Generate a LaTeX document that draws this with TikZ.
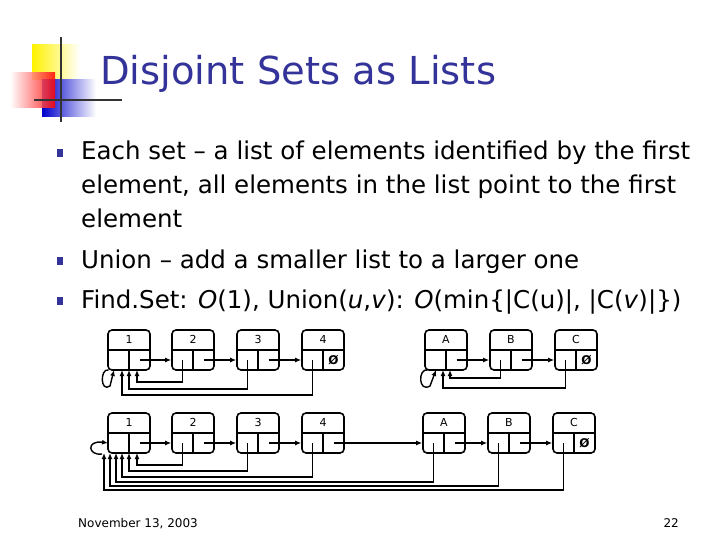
\documentclass[tikz,border=0pt]{standalone}
\usepackage{fontspec}
\setmainfont{DejaVu Sans}
\usetikzlibrary{calc,arrows.meta}
\definecolor{titleblue}{RGB}{51,51,153}
\tikzset{
  cell/.style={draw, line width=1.6pt, rounded corners=4pt, minimum width=42pt, minimum height=40pt, inner sep=0pt},
  ptr/.style={line width=1.4pt, -{Latex[length=6pt,width=5pt]}},
  wire/.style={line width=1.4pt},
  bul/.style={fill=titleblue, minimum width=6pt, minimum height=8pt, inner sep=0pt}
}
% one list element: name, x, y (top left), label
\newcommand{\listelem}[4]{%
  \node[cell] (#1) at (#2+21,#3+20) {};
  \draw[wire] (#1.west) -- (#1.east) (#1.center) -- (#1.south);
  \node[font=\fontsize{11}{11}\selectfont] (#1lab) at ($(#1.north)+(0,10)$) {#4};
  \coordinate (#1l) at ($(#1.center)+(-10.5,10)$);
  \coordinate (#1r) at ($(#1.center)+(10.5,10)$);
}
\newcommand{\nullptr}[1]{\node[font=\bfseries\fontsize{12}{12}\selectfont] (#1nil) at (#1r) {Ø};}
\begin{document}
\begin{tikzpicture}[x=1pt,y=-1pt]
\useasboundingbox (0,0) rectangle (720,540);

% logo
\shade[left color=yellow!90!orange, right color=white] (32,45) rectangle (80,80);
\shade[left color=blue!80!black, right color=white] (42,80) rectangle (96,117);
\shade[left color=white, right color=red, opacity=0.85] (10,73) rectangle (55,108);
\draw[line width=2.2pt, black!80] (61,37) -- (61,122);
\draw[line width=2.2pt, black!80] (34,100) -- (122,100);

\node[anchor=base west, text=titleblue, font=\fontsize{38.5}{38.5}\selectfont, inner sep=0pt] (title) at (100,85) {Disjoint Sets as Lists};

% bullets
\foreach \y in {151,259,299} \node[bul] at (60,\y+2) {};
\begin{scope}[every node/.style={anchor=base west, inner sep=0pt, font=\fontsize{24.5}{24.5}\selectfont}]
\node (l1) at (81,160) {Each set -- a list of elements identified by the first};
\node (l2) at (81,194) {element, all elements in the list point to the first};
\node (l3) at (81,228) {element};
\node (l4) at (81,268) {Union -- add a smaller list to a larger one};
\node (l5) at (81,308) {Find.Set: \textit{O}(1), Union(\textit{u},\textit{v}): \textit{O}(min\{|C(u)|, |C(\textit{v})|\})};
\end{scope}

% top row
\listelem{a1}{108}{330}{1}
\listelem{a2}{172}{330}{2}
\listelem{a3}{237}{330}{3}
\listelem{a4}{302}{330}{4}
\listelem{aA}{425}{330}{A}
\listelem{aB}{490}{330}{B}
\listelem{aC}{555}{330}{C}
\nullptr{a4}
\nullptr{aC}
\draw[ptr] (a1r) -- (a1r -| a2.west);
\draw[ptr] (a2r) -- (a2r -| a3.west);
\draw[ptr] (a3r) -- (a3r -| a4.west);
\draw[ptr] (aAr) -- (aAr -| aB.west);
\draw[ptr] (aBr) -- (aBr -| aC.west);
\draw[ptr] (a2l) |- (137,382) -- (137,370);
\draw[ptr] (a3l) |- (129,389) -- (129,370);
\draw[ptr] (a4l) |- (122,395) -- (122,370);
\draw[ptr] (a1l) ++(-10,10) .. controls (100,368) and (100,393) .. (110,386) -- (114,370);
\draw[ptr] (aBl) |- (450,378) -- (450,370);
\draw[ptr] (aCl) |- (443,388) -- (443,370);
\draw[ptr] (aAl) ++(-8,10) .. controls (418,368) and (418,393) .. (430,386) -- (436,370);

% bottom row
\listelem{b1}{108}{413}{1}
\listelem{b2}{172}{413}{2}
\listelem{b3}{237}{413}{3}
\listelem{b4}{302}{413}{4}
\listelem{bA}{423}{413}{A}
\listelem{bB}{488}{413}{B}
\listelem{bC}{553}{413}{C}
\nullptr{bC}
\draw[ptr] (b1r) -- (b1r -| b2.west);
\draw[ptr] (b2r) -- (b2r -| b3.west);
\draw[ptr] (b3r) -- (b3r -| b4.west);
\draw[ptr] (b4r) -- (b4r -| bA.west);
\draw[ptr] (bAr) -- (bAr -| bB.west);
\draw[ptr] (bBr) -- (bBr -| bC.west);
\draw[ptr] (b2l) |- (137,465) -- (137,453);
\draw[ptr] (b3l) |- (129,471) -- (129,453);
\draw[ptr] (b4l) |- (122,477) -- (122,453);
\draw[ptr] (bAl) |- (116,482) -- (116,453);
\draw[ptr] (bBl) |- (110,486) -- (110,453);
\draw[ptr] (bCl) |- (104,490) -- (104,453);
\draw[ptr] (102,454) .. controls (88,456) and (86,440) .. (108,443);

% footer
\node[anchor=base west, font=\fontsize{12}{12}\selectfont, inner sep=0pt] (date) at (78,527) {November 13, 2003};
\node[anchor=base east, font=\fontsize{12}{12}\selectfont, inner sep=0pt] (page) at (679,527) {22};
\end{tikzpicture}
\end{document}
